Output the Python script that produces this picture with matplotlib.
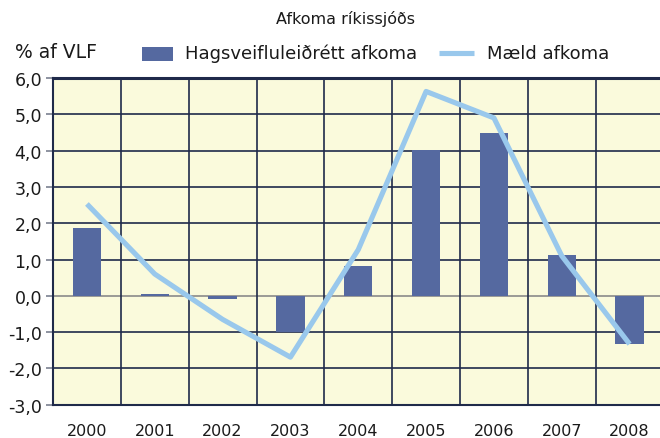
import matplotlib
matplotlib.use("Agg")
import matplotlib.pyplot as plt
from matplotlib.patches import Rectangle
from matplotlib.lines import Line2D
import numpy as np

years = ["2000", "2001", "2002", "2003", "2004", "2005", "2006", "2007", "2008"]
adjusted = [1.86, 0.05, -0.09, -1.0, 0.83, 4.01, 4.49, 1.12, -1.32]
measured = [2.53, 0.6, -0.65, -1.69, 1.27, 5.63, 4.9, 1.1, -1.33]
yticks = [-3, -2, -1, 0, 1, 2, 3, 4, 5, 6]
ytick_labels = ["-3,0", "-2,0", "-1,0", "0,0", "1,0", "2,0", "3,0", "4,0", "5,0", "6,0"]
series_names = ["Hagsveifluleiðrétt afkoma", "Mæld afkoma"]

plt.rcParams['font.family'] = ['DejaVu Sans']
W, H = 660, 439
fig = plt.figure(figsize=(W/100, H/100), dpi=100)
ax = fig.add_axes([53/W, 1-405.7/H, 610.5/W, (405.7-79)/H])
ax.set_facecolor('#fafadc')

bar_c = '#5569a0'
line_c = '#99c8ec'
x = np.arange(len(years))
grid_c = '#1f2a4a'
ax.bar(x, adjusted, width=0.42, color=bar_c, zorder=3)
ax.plot(x, measured, color=line_c, lw=3.7, zorder=4, solid_capstyle='butt')

ax.set_xlim(-0.5, len(years)-0.5)
ax.set_ylim(-3, 6)
ax.set_yticks(yticks)
ax.set_yticklabels(ytick_labels)
ax.set_xticks(x)
ax.set_xticklabels(years)
for yv in yticks:
    ax.axhline(yv, color='#8a8a8a' if yv == 0 else grid_c, lw=1.2, zorder=1)
for xv in np.arange(0.5, len(years)-0.5, 1):
    ax.axvline(xv, color=grid_c, lw=1.2, zorder=1)
ax.spines['top'].set_color(grid_c)
ax.spines['top'].set_linewidth(2.2)
ax.spines['left'].set_color(grid_c)
ax.spines['left'].set_linewidth(1.5)
ax.spines['bottom'].set_color(grid_c)
ax.spines['bottom'].set_linewidth(1.5)
ax.spines['right'].set_visible(False)
ax.tick_params(axis='y', length=5, width=1.2, color='#7a8090', labelsize=12.5, pad=3, labelcolor='#1a1a1a')
ax.tick_params(axis='x', length=0, labelsize=11.5, pad=13, labelcolor='#1a1a1a')

fig.text(345/W, 1-19/H, 'Afkoma ríkissjóðs', ha='center', va='center', fontsize=11.5, color='#1a1a1a')
fig.text(15/W, 1-52/H, '% af VLF', ha='left', va='center', fontsize=13.5, color='#1a1a1a')

# legend
fig.patches.append(Rectangle((142/W, 1-61.5/H), 31/W, 13.5/H, transform=fig.transFigure,
                             facecolor=bar_c, edgecolor='none'))
fig.text(185/W, 1-54/H, series_names[0], ha='left', va='center', fontsize=13, color='#1a1a1a')
fig.lines.append(Line2D([439/W, 474/W], [1-54/H, 1-54/H], transform=fig.transFigure,
                        color=line_c, lw=3.7, solid_capstyle='butt'))
fig.text(487/W, 1-54/H, series_names[1], ha='left', va='center', fontsize=13, color='#1a1a1a')

fig.savefig('out.png', dpi=100)
